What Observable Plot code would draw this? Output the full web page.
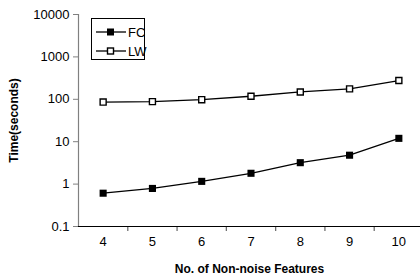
<!DOCTYPE html>
<html>
<head>
<meta charset="utf-8">
<script src="https://cdn.jsdelivr.net/npm/d3@7"></script>
<script src="https://cdn.jsdelivr.net/npm/@observablehq/plot@0.6"></script>
<style>
  html, body { margin: 0; padding: 0; background: #fff; }
  #wrap { position: relative; width: 420px; height: 278px; font-family: "Liberation Sans", Arial, sans-serif; }
  #wrap svg { font-family: "Liberation Sans", Arial, sans-serif; }
  [aria-label="y-axis label"] text, [aria-label="x-axis label"] text { font-weight: bold; font-size: 12px; }
  #legend { position: absolute; left: 91px; top: 18px; width: 54px; height: 42px; border: 1px solid #000; background: #fff; box-sizing: border-box; }
  #legend .row { position: absolute; left: 3px; height: 14px; display: flex; align-items: center; font-size: 13px; }
</style>
</head>
<body>
<div id="wrap"></div>
<script>
const features = [4, 5, 6, 7, 8, 9, 10];
const fcTimes = [0.61, 0.79, 1.16, 1.8, 3.2, 4.8, 12];
const lwTimes = [86, 88, 98, 118, 149, 176, 277];
const yTicks = [0.1, 1, 10, 100, 1000, 10000];
const xBoundaries = [4.5, 5.5, 6.5, 7.5, 8.5, 9.5];
const seriesNames = ["FC", "LW"];

const data = [];
features.forEach((f, i) => {
  data.push({feature: f, time: fcTimes[i], series: seriesNames[0]});
  data.push({feature: f, time: lwTimes[i], series: seriesNames[1]});
});
const fc = data.filter(d => d.series === "FC");
const lw = data.filter(d => d.series === "LW");

const chart = Plot.plot({
  width: 420,
  height: 278,
  marginLeft: 78,
  marginRight: 0,
  marginTop: 14,
  marginBottom: 52,
  style: {fontSize: "13px", fontFamily: "Liberation Sans, Arial, sans-serif", background: "#fff"},
  x: {type: "linear", domain: [3.5, 10.5], range: [78, 423]},
  y: {type: "log", domain: [0.1, 10000]},
  marks: [
    Plot.ruleX([3.5], {stroke: "#808080", strokeWidth: 1.2}),
    Plot.axisY({ticks: yTicks, tickFormat: d => String(d), tickSize: 5, tickPadding: 4, stroke: "#808080",
      label: "Time(seconds)", labelAnchor: "center", labelOffset: 69, labelArrow: "none", fill: "#000"}),
    Plot.axisX({ticks: xBoundaries, tickSize: 5, tickFormat: () => "", stroke: "#707070", strokeWidth: 1.3,
      label: "No. of Non-noise Features", labelAnchor: "center", labelOffset: 46, labelArrow: "none", fill: "#000"}),
    Plot.text(features, {x: d => d, text: d => String(d), frameAnchor: "bottom", dy: 19, fill: "#000", fontSize: 13}),
    Plot.ruleY([0.1], {stroke: "#000", strokeWidth: 1.2}),
    Plot.line(fc, {x: "feature", y: "time", stroke: "#000", strokeWidth: 1.3}),
    Plot.line(lw, {x: "feature", y: "time", stroke: "#000", strokeWidth: 1.3}),
    Plot.dot(fc, {x: "feature", y: "time", symbol: "square", r: 4, fill: "#000", stroke: "none"}),
    Plot.dot(lw, {x: "feature", y: "time", symbol: "square", r: 3.4, fill: "#fff", stroke: "#000", strokeWidth: 1.4})
  ]
});
document.getElementById("wrap").appendChild(chart);

// legend
const legend = document.createElement("div");
legend.id = "legend";
seriesNames.forEach((name, i) => {
  const row = document.createElement("div");
  row.className = "row";
  row.style.top = (6 + i * 19) + "px";
  const filled = i === 0;
  row.innerHTML = `<svg width="32" height="14" style="display:block"><line x1="1" x2="31" y1="7" y2="7" stroke="#000" stroke-width="1.3"/>` +
    (filled ? `<rect x="12" y="3.5" width="7" height="7" fill="#000"/>` : `<rect x="12.5" y="4" width="6" height="6" fill="#fff" stroke="#000" stroke-width="1.4"/>`) +
    `</svg><span style="margin-left:1px">${name}</span>`;
  legend.appendChild(row);
});
document.getElementById("wrap").appendChild(legend);
</script>
</body>
</html>
